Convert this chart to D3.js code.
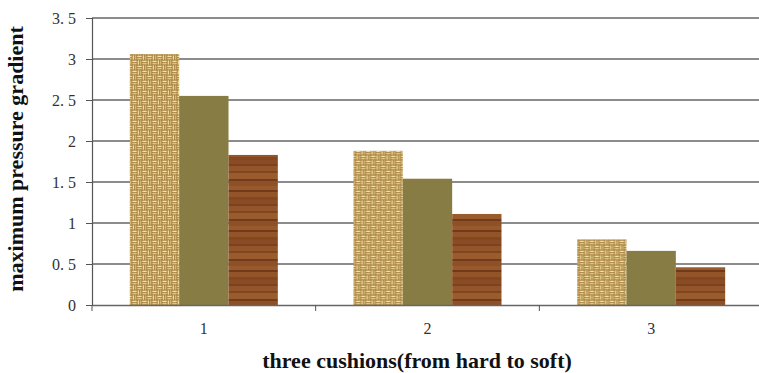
<!DOCTYPE html>
<html>
<head>
<meta charset="utf-8">
<script src="https://cdn.jsdelivr.net/npm/d3@7"></script>
<style>
  body { margin: 0; background: #fff; }
  svg { display: block; }
</style>
</head>
<body>
<div id="chart"></div>
<script>
const categories = ["1", "2", "3"];
const seriesNames = ["cushion A", "cushion B", "cushion C"];
const seriesA = [3.06, 1.88, 0.80];
const seriesB = [2.55, 1.54, 0.66];
const seriesC = [1.83, 1.11, 0.46];
const yTicks = [0, 0.5, 1, 1.5, 2, 2.5, 3, 3.5];
const yTickLabels = ["0", "0. 5", "1", "1. 5", "2", "2. 5", "3", "3. 5"];
const xTitle = "three cushions(from hard to soft)";
const yTitle = "maximum pressure gradient";

const W = 759, H = 373;
const margin = { left: 92, right: -4, top: 18, bottom: 68 };
const FONT = "'Liberation Serif', 'Times New Roman', Times, serif";
const svg = d3.select("#chart").append("svg").attr("width", W).attr("height", H);
const defs = svg.append("defs");

// burlap weave pattern
const weave = defs.append("pattern").attr("id", "weave")
  .attr("patternUnits", "userSpaceOnUse").attr("width", 10).attr("height", 10);
weave.append("rect").attr("width", 10).attr("height", 10).attr("fill", "#9a7436");
const cells = [[0,0,"h"],[5,0,"v"],[0,5,"v"],[5,5,"h"]];
cells.forEach(([cx, cy, o]) => {
  if (o === "h") {
    weave.append("rect").attr("x", cx + 0.3).attr("y", cy + 0.6).attr("width", 4.4).attr("height", 1.6).attr("fill", "#f4e0a6");
    weave.append("rect").attr("x", cx + 0.3).attr("y", cy + 2.9).attr("width", 4.4).attr("height", 1.6).attr("fill", "#e2c582");
  } else {
    weave.append("rect").attr("x", cx + 0.6).attr("y", cy + 0.3).attr("width", 1.6).attr("height", 4.4).attr("fill", "#efd89a");
    weave.append("rect").attr("x", cx + 2.9).attr("y", cy + 0.3).attr("width", 1.6).attr("height", 4.4).attr("fill", "#d6b672");
  }
});

// wood grain pattern
const wood = defs.append("pattern").attr("id", "wood")
  .attr("patternUnits", "userSpaceOnUse").attr("width", 60).attr("height", 40);
const woodStripes = [
  [0, 4, "#8a4c24"], [4, 2, "#7c421f"], [6, 5, "#94552a"], [11, 2, "#80461f"],
  [13, 6, "#9a5c2d"], [19, 2, "#723b1b"], [21, 5, "#8e5027"], [26, 4, "#985a2c"],
  [30, 2, "#703a1a"], [32, 5, "#925428"], [37, 3, "#844821"]
];
woodStripes.forEach(([y, h, c]) => wood.append("rect").attr("x", 0).attr("y", y).attr("width", 60).attr("height", h).attr("fill", c));

const fills = ["url(#weave)", "#877c43", "url(#wood)"];
const series = [seriesA, seriesB, seriesC];

const x0 = d3.scaleBand().domain(categories).range([margin.left, W - margin.right]).paddingInner(0).paddingOuter(0);
const x1 = d3.scaleBand().domain(d3.range(series.length)).range([0, x0.bandwidth()]).paddingInner(0).paddingOuter(0.767);
const y = d3.scaleLinear().domain([0, 3.5]).range([H - margin.bottom, margin.top]);

// gridlines
svg.append("g").selectAll("line").data(yTicks.filter(d => d > 0)).join("line")
  .attr("x1", margin.left).attr("x2", W)
  .attr("y1", d => y(d)).attr("y2", d => y(d))
  .attr("stroke", "#8c8c8c").attr("stroke-width", 2);

// bars
const groups = svg.append("g").selectAll("g").data(categories).join("g")
  .attr("transform", d => `translate(${x0(d)},0)`);
groups.selectAll("rect").data((d, i) => series.map((s, j) => ({ j, v: s[i] }))).join("rect")
  .attr("x", d => x1(d.j)).attr("width", x1.bandwidth())
  .attr("y", d => y(d.v)).attr("height", d => y(0) - y(d.v))
  .attr("fill", d => fills[d.j]);

// y axis
const yAxis = d3.axisLeft(y).tickValues(yTicks).tickSize(6).tickFormat((d, i) => yTickLabels[i]);
const ya = svg.append("g").attr("transform", `translate(${margin.left},0)`).call(yAxis);
ya.select(".domain").attr("stroke", "#555").attr("stroke-width", 1.2);
ya.selectAll(".tick line").attr("stroke", "#555");
ya.selectAll(".tick text").attr("x", -16).attr("font-family", FONT).attr("font-size", 16).attr("fill", "#333");

// x axis
const xa = svg.append("g").attr("transform", `translate(0,${y(0)})`)
  .call(d3.axisBottom(x0).tickSize(0).tickPadding(18));
xa.select(".domain").attr("stroke", "#666").attr("stroke-width", 1.5);
xa.selectAll(".tick text").attr("font-family", FONT).attr("font-size", 16).attr("fill", "#333");
// boundary tick marks
xa.append("g").selectAll("line").data(categories).join("line")
  .attr("x1", d => x0(d)).attr("x2", d => x0(d)).attr("y1", 0).attr("y2", 6)
  .attr("stroke", "#555");

// titles
svg.append("text").attr("x", 417).attr("y", 368).attr("text-anchor", "middle")
  .attr("font-family", FONT).attr("font-weight", "bold").attr("font-size", 22)
  .attr("fill", "#111").text(xTitle);
svg.append("text").attr("transform", "translate(23,159) rotate(-90)").attr("text-anchor", "middle")
  .attr("font-family", FONT).attr("font-weight", "bold").attr("font-size", 22)
  .attr("fill", "#111").text(yTitle);
</script>
</body>
</html>
